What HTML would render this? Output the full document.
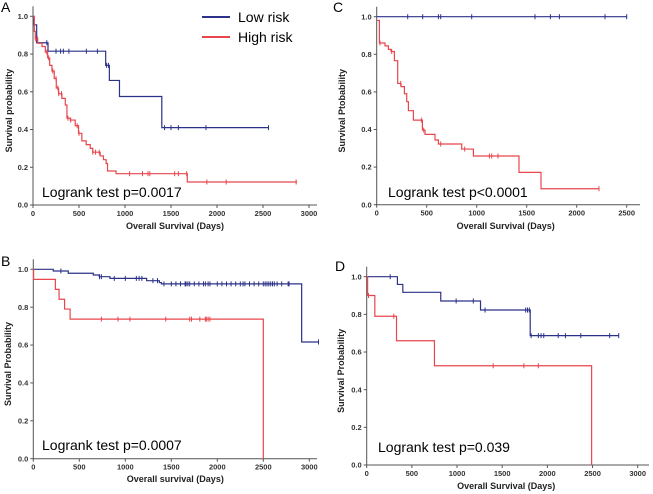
<!DOCTYPE html>
<html><head><meta charset="utf-8">
<style>
body{margin:0;background:#fff;}
svg{display:block;font-family:"Liberation Sans",sans-serif;}
.tk{font-size:7.5px;font-weight:bold;fill:#333;}
.at{font-size:9px;font-weight:bold;fill:#222;}
.lr{font-size:14px;fill:#000;}
.pl{font-size:14px;fill:#000;}
</style></head>
<body>
<svg id="fig" width="653" height="494" viewBox="0 0 653 494" xmlns="http://www.w3.org/2000/svg"></svg>
<script>
// Panel A
const aLowSteps=[[0,1.0],[10,0.955],[40,0.86],[163,0.815],[790,0.74],[830,0.66],[940,0.575],[1400,0.41]];
const aLowEnd=2560;
const aLowCens=[150,250,300,330,390,580,700,800,820,1430,1500,1580,1880,2560];
const aHighSteps=[[0,1.0],[14,0.92],[25,0.88],[51,0.857],[98,0.84],[134,0.81],[159,0.78],[181,0.74],[206,0.71],[231,0.67],[253,0.62],[278,0.59],[314,0.565],[351,0.53],[369,0.46],[405,0.45],[459,0.42],[495,0.38],[531,0.34],[578,0.32],[622,0.30],[650,0.28],[730,0.26],[766,0.24],[795,0.22],[810,0.18],[903,0.166],[1677,0.122]];
const aHighEnd=2870;
const aHighCens=[30,50,150,170,215,250,270,280,310,380,410,480,500,650,680,720,1050,1190,1250,1270,1540,1580,1670,1890,2100,2860];
// Panel C
const cLowSteps=[[0,1.0]];
const cLowEnd=2500;
const cLowCens=[310,460,617,640,950,1583,1737,1827,2283,2500];
const cHighSteps=[[0,0.98],[27,0.86],[83,0.845],[117,0.826],[143,0.815],[177,0.766],[210,0.645],[243,0.628],[277,0.59],[300,0.548],[317,0.5],[367,0.45],[457,0.397],[483,0.374],[583,0.344],[617,0.323],[850,0.296],[967,0.259],[1423,0.172],[1643,0.085]];
const cHighEnd=2223;
const cHighCens=[33,150,240,447,470,640,880,1127,1150,1213,2223];
// Panel B
const bLowSteps=[[0,1.0],[217,0.991],[380,0.979],[652,0.97],[717,0.961],[833,0.952],[1232,0.94],[1370,0.93],[1392,0.923],[2917,0.616]];
const bLowEnd=3100;
const bLowCens=[300,720,740,880,1000,1120,1150,1180,1300,1350,1420,1500,1550,1600,1650,1660,1680,1700,1750,1800,1850,1870,1900,1920,2000,2050,2100,2150,2200,2250,2280,2300,2350,2400,2450,2500,2520,2540,2560,2580,2600,2620,2650,2700,2770,2780,3100];
const bHighSteps=[[0,1.0],[3,0.947],[240,0.894],[280,0.842],[340,0.79],[400,0.737],[2500,0.0]];
const bHighEnd=2500;
const bHighCens=[740,920,1050,1440,1700,1720,1810,1870,1880,1900,1920];
// Panel D
const dLowSteps=[[0,1.0],[340,0.959],[400,0.917],[820,0.871],[1260,0.823],[1810,0.687]];
const dLowEnd=2790;
const dLowCens=[260,990,1180,1310,1760,1780,1800,1820,1900,1930,1960,2120,2200,2370,2690,2790];
const dHighSteps=[[0,1.0],[10,0.9],[90,0.79],[330,0.66],[750,0.527],[2490,0.0]];
const dHighEnd=2490;
const dHighCens=[20,300,1400,1740,1900];
const yTicks=["0.0","0.2","0.4","0.6","0.8","1.0"];
const xTicks3000=[0,500,1000,1500,2000,2500,3000];
const xTicks2500=[0,500,1000,1500,2000,2500];

const NS="http://www.w3.org/2000/svg";
const svg=document.getElementById('fig');
function mk(t,a,p){const e=document.createElementNS(NS,t);for(const k in a)e.setAttribute(k,a[k]);(p||svg).appendChild(e);return e;}
const BLUE="#2b3288",RED="#e8464c";

function panel(P){
  const g=mk('g',{});
  
  
  const sx=v=>P.x0+(v/P.xmax)*(P.x1-P.x0);
  const sy=v=>P.y0-(v)*(P.y0-P.y1);
  // axes
  const ax=mk('path',{d:`M${P.x0},${P.y1-10}V${P.y0}H${P.axEnd}`,fill:'none',stroke:'#555','stroke-width':1},g);
  
  
  yTicks.forEach(s=>{const v=parseFloat(s);const y=sy(v);
    mk('line',{x1:P.x0-3,x2:P.x0,y1:y,y2:y,stroke:'#555'},g);
    const t=mk('text',{x:P.x0-5,y:y+2.6,'text-anchor':'end',class:'tk'},g);t.textContent=s;
    
    });
  P.xt.forEach(v=>{const x=sx(v);
    mk('line',{x1:x,x2:x,y1:P.y0,y2:P.y0+3,stroke:'#555'},g);
    const t=mk('text',{x:x,y:P.y0+11,'text-anchor':'middle',class:'tk'},g);t.textContent=v;
    
    });
  const yt=mk('text',{x:0,y:0,'text-anchor':'middle',class:'at',transform:`translate(${P.ytx},${(P.y0+P.y1)/2}) rotate(-90)`},g);
  yt.textContent=P.ytitle;
  
  
  const xt=mk('text',{x:(P.x0+P.x1)/2+4,y:P.xty,'text-anchor':'middle',class:'at'},g);
  xt.textContent=P.xtitle;
  
  
  // series
  [[P.low,P.lowEnd,P.lowC,BLUE,'low-risk'],[P.high,P.highEnd,P.highC,RED,'high-risk']].forEach(([st,end,cs,col,nm])=>{
    let d=`M${sx(st[0][0])},${sy(st[0][1])}`;
    for(let i=1;i<st.length;i++){d+=`H${sx(st[i][0])}V${sy(st[i][1])}`;}
    d+=`H${sx(end)}`;
    const p=mk('path',{d:d,fill:'none',stroke:col,'stroke-width':1.2},g);
    
    
    const survAt=t=>{let s=st[0][1];for(const [tt,v] of st){if(tt<=t)s=v;}return s;};
    cs.forEach(c=>{const x=sx(c),y=sy(survAt(c));
      const m=mk('line',{x1:x,x2:x,y1:y-2.5,y2:y+2.5,stroke:col,'stroke-width':1},g);
      
      });
  });
  const lr=mk('text',{x:P.lrx,y:P.lry,class:'lr'},g);lr.textContent=P.lr;
  
  
  const pl=mk('text',{x:P.plx,y:P.ply,class:'pl'},g);pl.textContent=P.id;
  
  
}

panel({id:'A',x0:33,x1:309,xmax:3000,y0:205,y1:16.3,axEnd:317,xt:xTicks3000,ytx:12,ytitle:'Survival probability',xty:229,xtitle:'Overall Survival (Days)',
  low:aLowSteps,lowEnd:aLowEnd,lowC:aLowCens,high:aHighSteps,highEnd:aHighEnd,highC:aHighCens,lr:'Logrank test p=0.0017',lrx:42,lry:197,plx:1,ply:12});
panel({id:'C',x0:376.7,x1:626.7,xmax:2500,y0:204.7,y1:16.7,axEnd:640,xt:xTicks2500,ytx:345,ytitle:'Survival Ptobability',xty:229,xtitle:'Overall Survival (Days)',
  low:cLowSteps,lowEnd:cLowEnd,lowC:cLowCens,high:cHighSteps,highEnd:cHighEnd,highC:cHighCens,lr:'Logrank test p<0.0001',lrx:388,lry:197,plx:333,ply:12});
panel({id:'B',x0:33.3,x1:309.3,xmax:3000,y0:458.7,y1:269.3,axEnd:317,xt:xTicks3000,ytx:11,ytitle:'Survival Probability',xty:482,xtitle:'Overall survival (Days)',
  low:bLowSteps,lowEnd:bLowEnd,lowC:bLowCens,high:bHighSteps,highEnd:bHighEnd,highC:bHighCens,lr:'Logrank test p=0.0007',lrx:42,lry:450,plx:1,ply:266});
panel({id:'D',x0:366.7,x1:637.7,xmax:3000,y0:465,y1:276.7,axEnd:649,xt:xTicks3000,ytx:344,ytitle:'Survival Probability',xty:489,xtitle:'Overall Survival (Days)',
  low:dLowSteps,lowEnd:dLowEnd,lowC:dLowCens,high:dHighSteps,highEnd:dHighEnd,highC:dHighCens,lr:'Logrank test p=0.039',lrx:378,lry:452,plx:335,ply:271});

// legend
const lg=mk('g',{});


[['Low risk',BLUE,17],['High risk',RED,37]].forEach(([t,c,y])=>{
  const l=mk('line',{x1:202,x2:230,y1:y,y2:y,stroke:c,'stroke-width':2},lg);
  
  
  const tx=mk('text',{x:238,y:y+5,style:'font-size:14px'},lg);tx.textContent=t;
  
  
});
</script>
</body></html>
